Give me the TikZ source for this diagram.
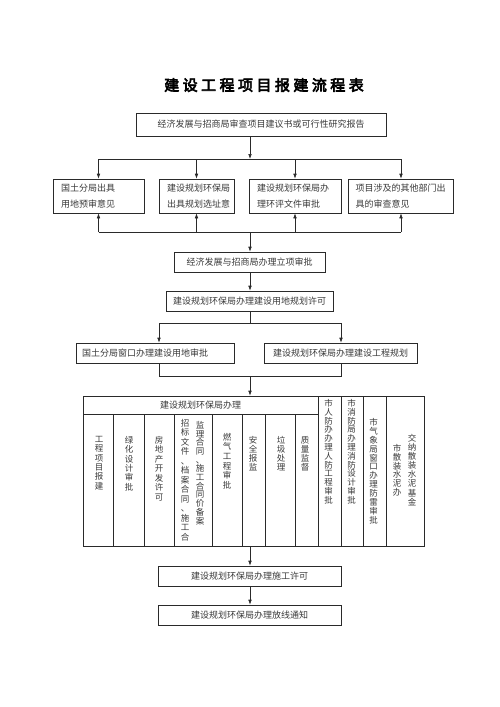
\documentclass[tikz,border=0pt]{standalone}
\usepackage{fontspec}
\newfontfamily\cjk{Noto Sans CJK SC}
\newfontfamily\cjktitle[FakeBold=4,LetterSpace=23]{Noto Sans CJK SC}
\usetikzlibrary{arrows.meta}
\definecolor{linec}{HTML}{2A2A2A}
\definecolor{textc}{HTML}{3A3A3A}
\def\vsplitA#1{\ifx\relax#1\else\hbox to 9pt{\hss#1\hss}\expandafter\vsplitA\fi}
\newcommand\vstack[2][9.3pt]{\vbox{\baselineskip=#1\relax\lineskiplimit=-5pt\relax\vsplitA#2\relax}}
\begin{document}
\begin{tikzpicture}[x=1pt,y=-1pt,
  box/.style={draw=linec, line width=0.6pt, inner sep=0pt, text=textc,
    font=\cjk\fontsize{9}{11}\selectfont},
  lbox/.style={box, align=left, inner xsep=8pt, font=\cjk\fontsize{9}{15.5}\selectfont},
  cell/.style={draw=linec, line width=0.6pt, inner sep=0pt},
  vtxt/.style={inner sep=0pt, anchor=north, text=textc, font=\cjk\fontsize{8.5}{10}\selectfont},
  ln/.style={draw=linec, line width=0.6pt},
  arr/.style={ln, -{Latex[length=5pt,width=3.6pt]}}
]
\useasboundingbox[fill=white] (0,0) rectangle (500,707);

\node[text=black, font=\cjktitle\fontsize{15}{17}\selectfont] (title) at (264,85) {建设工程项目报建流程表};

\node[box, minimum width=250pt, minimum height=23pt] (B1) at (261,124.5) {经济发展与招商局审查项目建议书或可行性研究报告};

\node[lbox, text width=75pt, minimum height=34pt] (A) at (98.5,196) {国土分局出具\\用地预审意见};
\node[lbox, text width=59pt, minimum height=34pt] (B) at (196.5,196) {建设规划环保局\\出具规划选址意};
\node[lbox, text width=76pt, minimum height=34pt] (C) at (295,196) {建设规划环保局办\\理环评文件审批};
\node[lbox, text width=91pt, inner xsep=7pt, minimum height=34pt] (D) at (401,196) {项目涉及的其他部门出\\具的审查意见};

\node[box, minimum width=151pt, minimum height=20pt] (B2) at (249.5,262) {经济发展与招商局办理立项审批};
\node[box, minimum width=167pt, minimum height=20pt] (B3) at (249.5,301) {建设规划环保局办理建设用地规划许可};
\node[box, align=left, text width=146pt, inner xsep=6pt, minimum height=20pt] (BL) at (155,353) {国土分局窗口办理建设用地审批};
\node[box, minimum width=153pt, minimum height=20pt] (BR) at (340.5,353) {建设规划环保局办理建设工程规划};

% table
\node[cell, minimum width=235pt, minimum height=18pt, text=textc, font=\cjk\fontsize{9}{11}\selectfont] (hdr) at (200.5,405) {建设规划环保局办理};
\node[cell, minimum width=30pt, minimum height=132pt] (c1) at (98,480) {};
\node[cell, minimum width=31pt, minimum height=132pt] (c2) at (128.5,480) {};
\node[cell, minimum width=30pt, minimum height=132pt] (c3) at (159,480) {};
\node[cell, minimum width=38pt, minimum height=132pt] (c4) at (193,480) {};
\node[cell, minimum width=30pt, minimum height=132pt] (c5) at (227,480) {};
\node[cell, minimum width=23pt, minimum height=132pt] (c6) at (253.5,480) {};
\node[cell, minimum width=30pt, minimum height=132pt] (c7) at (280,480) {};
\node[cell, minimum width=23pt, minimum height=132pt] (c8) at (306.5,480) {};
\node[cell, minimum width=23pt, minimum height=150pt] (c9) at (329.5,471) {};
\node[cell, minimum width=22pt, minimum height=150pt] (c10) at (352,471) {};
\node[cell, minimum width=23pt, minimum height=150pt] (c11) at (374.5,471) {};
\node[cell, minimum width=38pt, minimum height=150pt] (c12) at (405,471) {};

\node[vtxt] (t1) at (99,436) {\vstack[9.4pt]{工程项目报建}};
\node[vtxt] (t2) at (129,436) {\vstack[9.4pt]{绿化设计审批}};
\node[vtxt] (t3) at (159,436) {\vstack[9.5pt]{房地产开发许可}};
\node[vtxt] (t4a) at (200,421) {\vstack[8.7pt]{监理合同、施工合同价备案}};
\node[vtxt] (t4b) at (185,419) {\vstack[9.5pt]{招标文件、档案合同、施工合}};
\node[vtxt] (t5) at (227,433) {\vstack[9.6pt]{燃气工程审批}};
\node[vtxt] (t6) at (253,436) {\vstack[9pt]{安全报监}};
\node[vtxt] (t7) at (281,436) {\vstack[9pt]{垃圾处理}};
\node[vtxt] (t8) at (305,436) {\vstack[9pt]{质量监督}};
\node[vtxt] (t9) at (328.5,399) {\vstack[8.8pt]{市人防办办理人防工程审批}};
\node[vtxt] (t10) at (351.5,399) {\vstack[8.8pt]{市消防局办理消防设计审批}};
\node[vtxt] (t11) at (373.5,418) {\vstack[8.9pt]{市气象局窗口办理防雷审批}};
\node[vtxt] (t12a) at (412,434) {\vstack[9.1pt]{交纳散装水泥基金}};
\node[vtxt] (t12b) at (397,444) {\vstack[8.8pt]{市散装水泥办}};

\node[box, minimum width=183pt, minimum height=20pt] (S1) at (249.5,576) {建设规划环保局办理施工许可};
\node[box, minimum width=183pt, minimum height=20pt] (S2) at (249.5,615) {建设规划环保局办理放线通知};

% connectors
\coordinate (j1) at (250,159);
\coordinate (j2) at (250,232);
\coordinate (j3) at (250,323);
\coordinate (jL) at (159,323);
\coordinate (jR) at (341,323);
\coordinate (k) at (250,376);
\coordinate (kL) at (159,376);
\coordinate (kR) at (341,376);

\draw[arr] (j1 |- B1.south) -- (j1);
\draw[ln] (A.north |- j1) -- (D.north |- j1);
\foreach \n in {A,B,C,D} {\draw[arr] (\n.north |- j1) -- (\n.north);}
\draw[ln] (A.south |- j2) -- (D.south |- j2);
\foreach \n in {A,B,C,D} {\draw[arr] (\n.south |- j2) -- (\n.south);}
\draw[arr] (j2) -- (j2 |- B2.north);
\draw[arr] (j2 |- B2.south) -- (j2 |- B3.north);
\draw[ln] (j3 |- B3.south) -- (j3);
\draw[ln] (jL) -- (jR);
\draw[arr] (jL) -- (jL |- BL.north);
\draw[arr] (jR) -- (jR |- BR.north);
\draw[ln] (kL |- BL.south) -- (kL) -- (kR) -- (kR |- BR.south);
\draw[arr] (k) -- (k |- hdr.north);
\draw[arr] (k |- c6.south) -- (k |- S1.north);
\draw[arr] (k |- S1.south) -- (k |- S2.north);
\end{tikzpicture}
\end{document}
